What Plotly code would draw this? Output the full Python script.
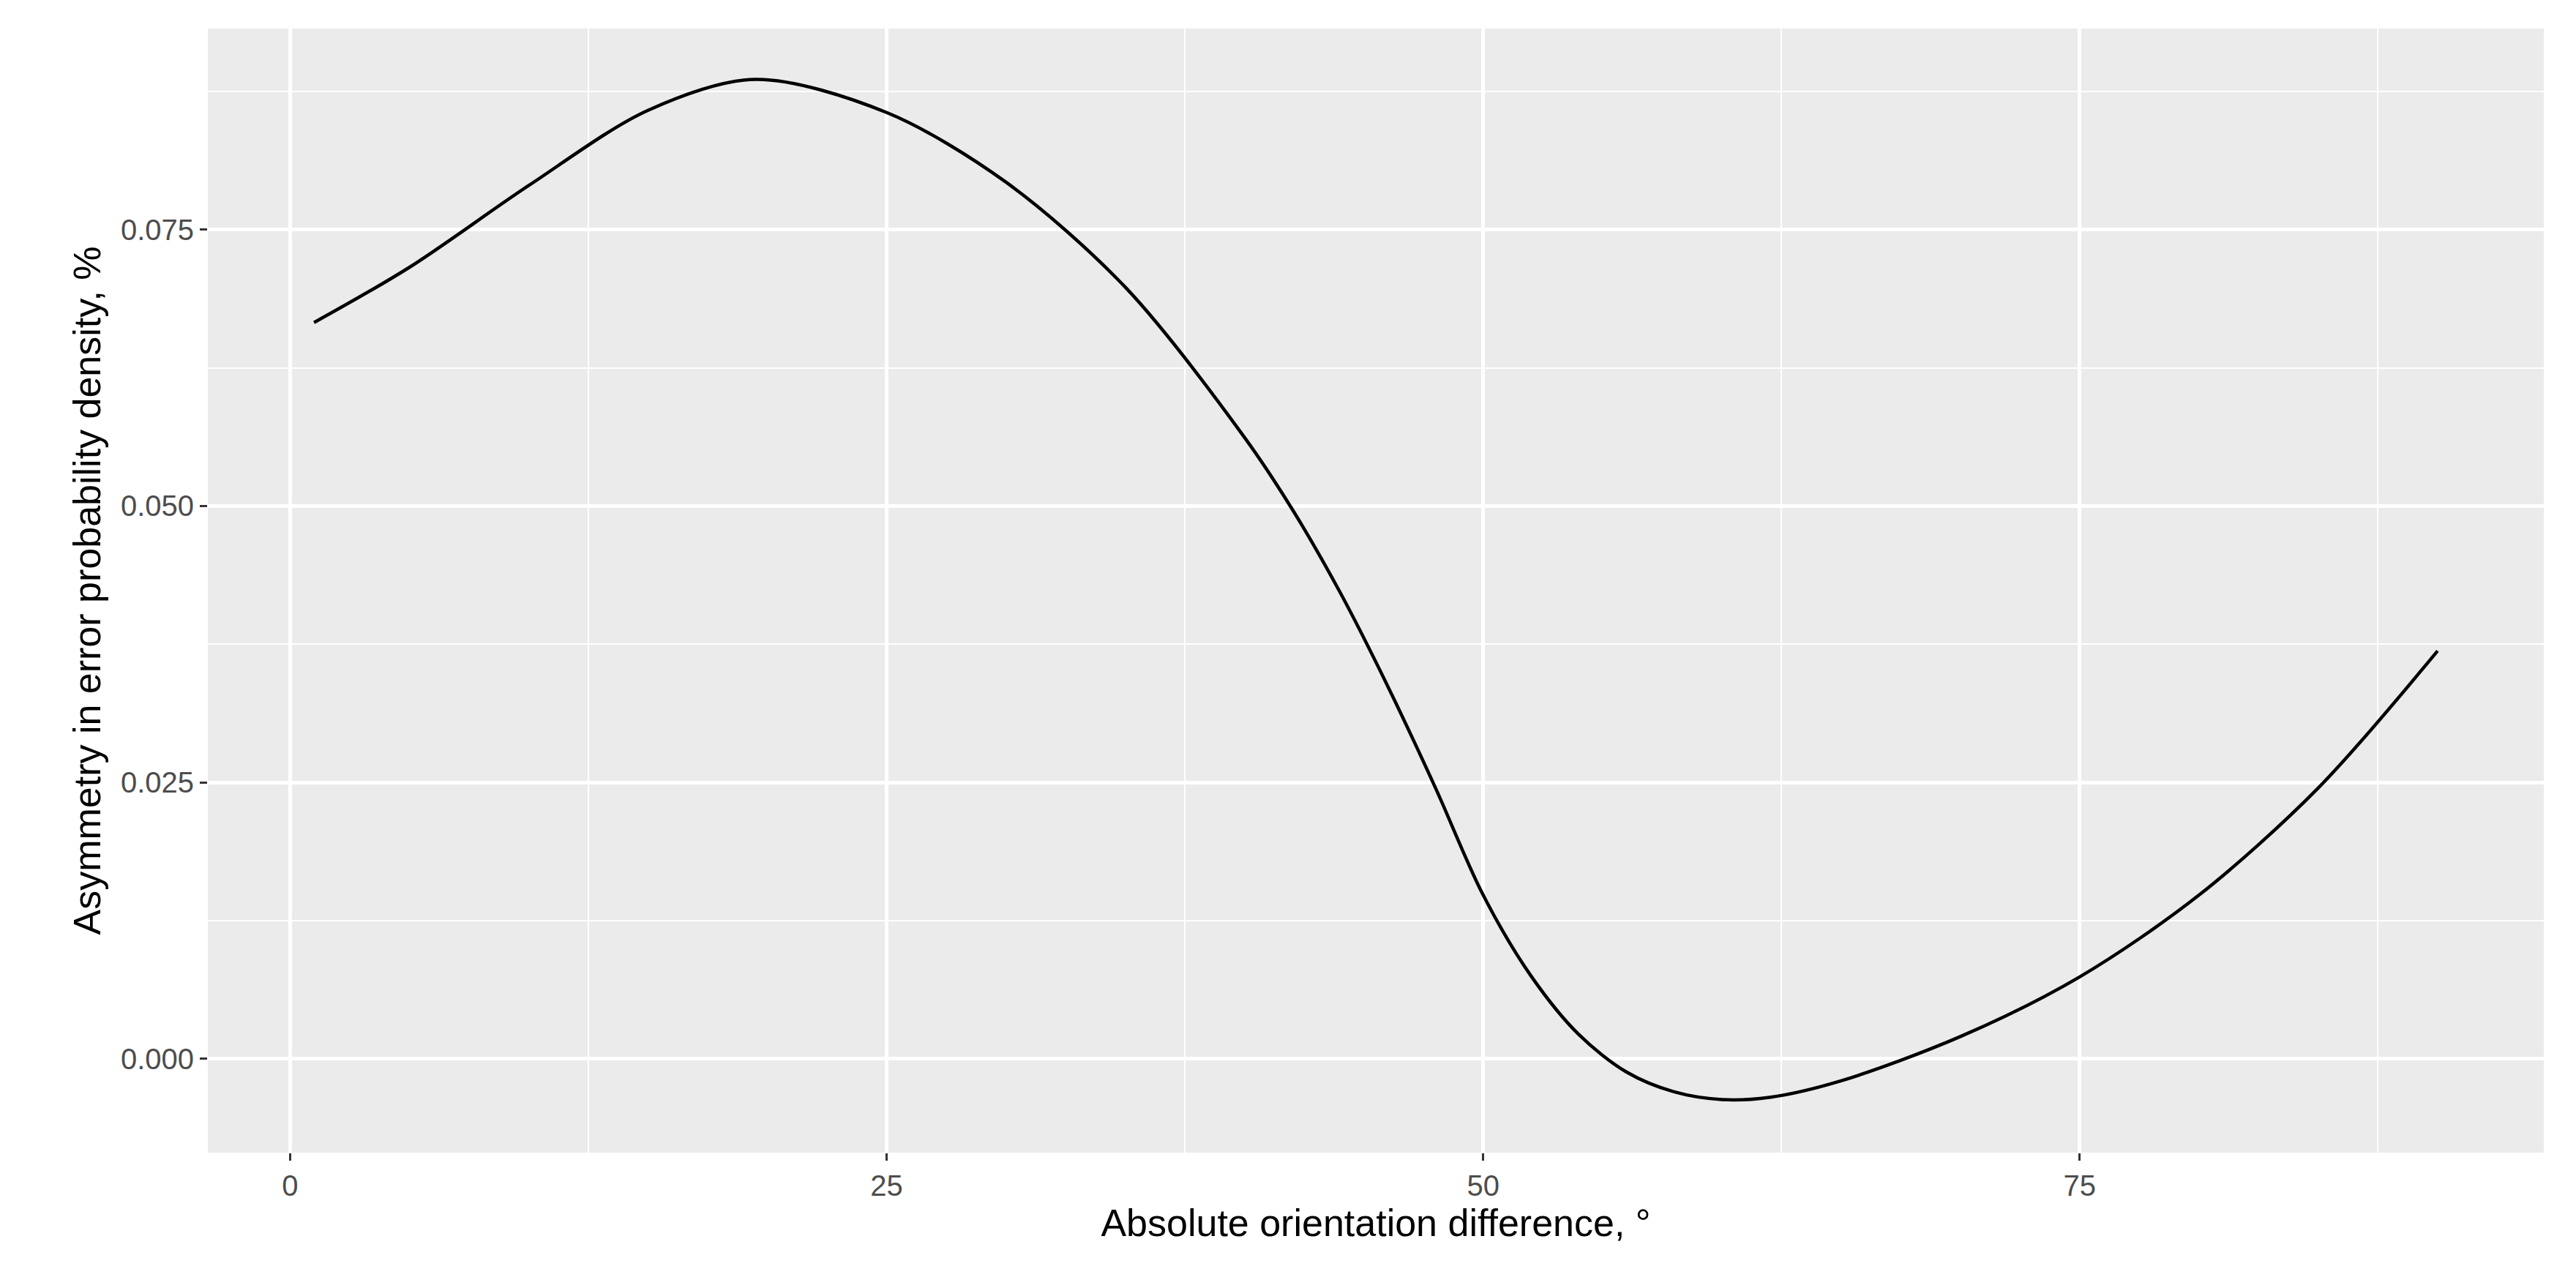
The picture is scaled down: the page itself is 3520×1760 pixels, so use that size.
import plotly.graph_objects as go

x_vals = [1, 5, 10, 15, 19.5, 25, 30, 35, 40, 42, 44, 46, 48, 50, 52, 54, 56, 58, 60, 62, 65, 70, 75, 80, 85, 90]
y_vals = [0.0666, 0.0716, 0.0790, 0.0858, 0.0886, 0.0856, 0.0793, 0.0698, 0.0562, 0.0497, 0.0422, 0.0337,
          0.0245, 0.0148, 0.0075, 0.0022, -0.0012, -0.0030, -0.0037, -0.0035, -0.0020, 0.0020, 0.0074,
          0.0148, 0.0245, 0.0369]
x_ticks = [0, 25, 50, 75]
y_ticks = [0.0, 0.025, 0.05, 0.075]
y_labels = ["0.000", "0.025", "0.050", "0.075"]

fig = go.Figure(go.Scatter(x=x_vals, y=y_vals, mode="lines",
                           line=dict(color="black", width=4.5, shape="spline", smoothing=0.9)))
font = "Liberation Sans, Arial, sans-serif"
fig.update_layout(
    width=3520, height=1760, paper_bgcolor="white", plot_bgcolor="#EBEBEB",
    margin=dict(l=276, r=52, t=31, b=193), showlegend=False,
    font=dict(family=font, size=40, color="#4D4D4D"),
)
fig.update_xaxes(range=[-3.45, 94.45], tickvals=x_ticks, gridcolor="white", gridwidth=4.5,
                 zeroline=False, ticks="outside", ticklen=10, tickwidth=3, tickcolor="#333333",
                 minor=dict(dtick=12.5, tick0=0, gridcolor="white", gridwidth=2, showgrid=True),
                 title=dict(text="Absolute orientation difference, °", font=dict(size=52, color="black"), standoff=10))
fig.update_yaxes(range=[-0.0085, 0.0932], tickvals=y_ticks, ticktext=y_labels, gridcolor="white", gridwidth=4.5,
                 zeroline=False, ticks="outside", ticklen=10, tickwidth=3, tickcolor="#333333",
                 minor=dict(dtick=0.0125, tick0=0, gridcolor="white", gridwidth=2, showgrid=True),
                 title=dict(text="Asymmetry in error probability density, %", font=dict(size=52, color="black"), standoff=10))
fig.write_html("out.html")
